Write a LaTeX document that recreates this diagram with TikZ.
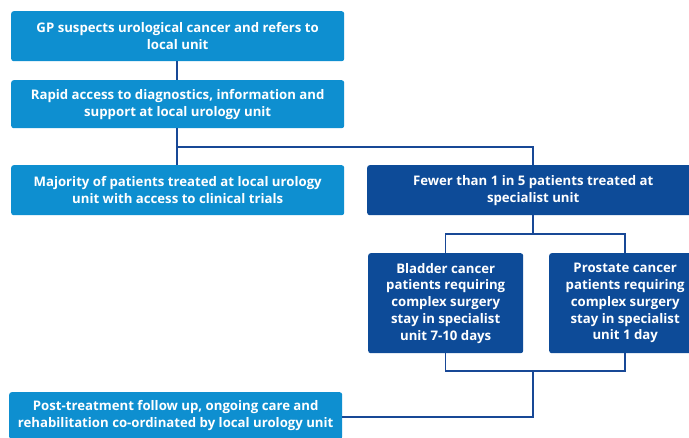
\documentclass[tikz,border=0pt]{standalone}
\usepackage{fontspec}
\setmainfont{Open Sans}
\definecolor{lightnhs}{RGB}{14,143,208}
\definecolor{darknhs}{RGB}{13,75,152}
\definecolor{linenhs}{RGB}{24,72,150}
\tikzset{
  boxbase/.style={anchor=north west, rounded corners=2.5pt, text=white, align=center,
    font=\bfseries\fontsize{13.2}{16.8}\selectfont, inner sep=0pt},
  lightbox/.style={boxbase, fill=lightnhs},
  darkbox/.style={boxbase, fill=darknhs},
  conn/.style={draw=linenhs, line width=1.3pt}
}
\begin{document}
\begin{tikzpicture}[x=1pt,y=-1pt]
\useasboundingbox[fill=white] (0,0) rectangle (689,437);
\node[lightbox, minimum width=333pt, minimum height=50pt] (gp) at (11,11)
  {GP suspects urological cancer and refers to\\local unit};
\node[lightbox, minimum width=333pt, minimum height=48pt] (rapid) at (11,80)
  {Rapid access to diagnostics, information and\\support at local urology unit};
\node[lightbox, minimum width=333pt, minimum height=50pt] (major) at (11,165)
  {Majority of patients treated at local urology\\unit with access to clinical trials};
\node[darkbox, minimum width=332pt, minimum height=50pt] (fewer) at (367,165)
  {Fewer than 1 in 5 patients treated at\\specialist unit};
\node[darkbox, minimum width=155pt, minimum height=100pt] (bladder) at (368,253)
  {Bladder cancer\\patients requiring\\complex surgery\\stay in specialist\\unit 7-10 days};
\node[darkbox, minimum width=152pt, minimum height=100pt] (prostate) at (549,253)
  {Prostate cancer\\patients requiring\\complex surgery\\stay in specialist\\unit 1 day};
\node[lightbox, minimum width=333pt, minimum height=47pt] (post) at (9,392)
  {Post-treatment follow up, ongoing care and\\rehabilitation co-ordinated by local urology unit};
\coordinate (j1) at (177,147);
\coordinate (j2) at (533,147);
\coordinate (j3) at (533,234);
\coordinate (j4) at (533,371);
\coordinate (j5) at (533,417);
\draw[conn] (gp.south -| j1) -- (rapid.north -| j1);
\draw[conn] (rapid.south -| j1) -- (major.north -| j1);
\draw[conn] (j1) -- (j2) -- (fewer.north -| j2);
\draw[conn] (fewer.south -| j3) -- (j3);
\draw[conn] (bladder.north) |- (j3) -| (prostate.north -| 625,0);
\draw[conn] (bladder.south) |- (j4) -| (prostate.south -| 625,0);
\draw[conn] (j4) -- (j5) -- (post.east |- j5);
\end{tikzpicture}
\end{document}
